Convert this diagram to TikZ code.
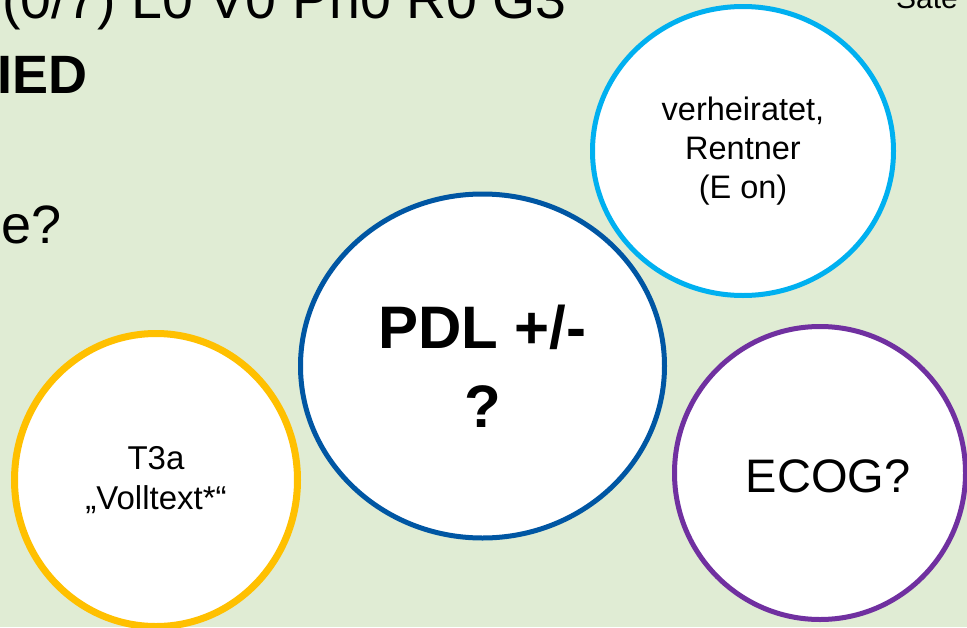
\documentclass[tikz,border=0pt]{standalone}
\usepackage{fontspec}
\setmainfont{Liberation Sans}
\usetikzlibrary{shapes.geometric}
\definecolor{bg}{RGB}{224,236,212}
\definecolor{lblue}{RGB}{0,176,240}
\definecolor{dblue}{RGB}{0,86,163}
\definecolor{gold}{RGB}{255,192,0}
\definecolor{violet}{RGB}{112,48,160}
\tikzset{
  bubble/.style={ellipse, fill=white, inner sep=0pt, align=center, text=black},
  headline/.style={inner sep=0pt, text=black, font=\fontsize{54}{60}\selectfont}
}
\begin{document}
\begin{tikzpicture}[x=1pt,y=-1pt]
\useasboundingbox (0,0) rectangle (967,627);
\clip (0,0) rectangle (967,627);
\fill[bg] (0,0) rectangle (967,627);

% headline text (cut off by the slide crop)
\node[headline, anchor=base west, font=\fontsize{55.5}{60}\selectfont] (t1) at (2,18) {(0/7) L0 V0 Pn0 R0 G3};
\node[headline, anchor=base east, font=\fontsize{54}{60}\selectfont\bfseries] (t2) at (88,93) {IED};
\node[headline, anchor=base east] (t3) at (62,243) {e?};
\node[inner sep=0pt, anchor=base west, font=\fontsize{30}{34}\selectfont] (sate) at (896,8) {Sate};

% bubbles
\node[bubble, draw=lblue, line width=5pt, minimum width=301pt, minimum height=289pt,
      font=\fontsize{32.5}{39}\selectfont] (status) at (743,151)
  {verheiratet,\\Rentner\\(E on)};
\node[bubble, draw=dblue, line width=5pt, minimum width=364pt, minimum height=344pt,
      font=\fontsize{60}{79}\selectfont\bfseries] (pdl) at (482.5,366)
  {PDL +/-\\?};
\node[bubble, draw=gold, line width=7pt, minimum width=283pt, minimum height=293pt,
      font=\fontsize{33}{40}\selectfont] (tumor) at (156,480)
  {T3a\\„Volltext*“};
\node[bubble, draw=violet, line width=5pt, minimum width=291pt, minimum height=293pt] (ecog) at (820,473) {};
\node[inner sep=0pt, text=black, font=\fontsize{47}{56}\selectfont] (ecogtext) at ([shift={(8,3)}]ecog.center) {ECOG?};
\end{tikzpicture}
\end{document}
